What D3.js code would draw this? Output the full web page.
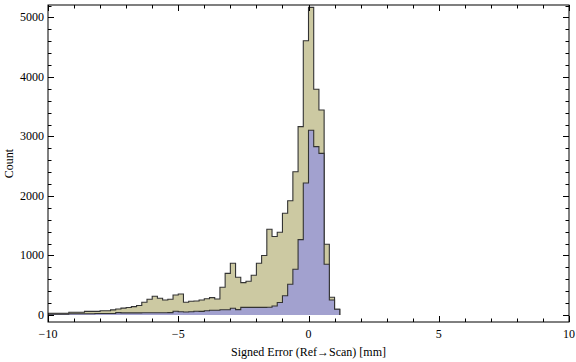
<!DOCTYPE html>
<html>
<head>
<meta charset="utf-8">
<script src="https://cdn.jsdelivr.net/npm/d3@7"></script>
<style>
  body { margin: 0; background: #fff; }
  text { font-family: "Liberation Serif", "DejaVu Serif", serif; }
</style>
</head>
<body>
<div id="chart"></div>
<script>
// bin width 0.2, each array starts at binStart
const binWidth = 0.2;

// tan series: bins starting at -10.0
const tanStart = -10;
const tanCounts = [
    30, 30, 30, 30, 45, 45, 45, 60, 60, 60,      // -10.0 .. -8.2
    72, 72, 85, 100, 115, 125, 140, 160, 213, 264, // -8.0 .. -6.2
    314, 281, 252, 264, 336, 353, 213, 230, 235, 252, // -6.0 .. -4.2
    274, 291, 269, 465, 700, 869, 634, 543, 566, 667, // -4.0 .. -2.2
    869, 1000, 1440, 1320, 1390, 1709, 1921, 2408, 3165, 4610, // -2.0 .. -0.2
    5170, 3793, 3445, 1188, 297, 96                // 0.0 .. 1.0
];

// blue series: bins starting at -10.0
const blueStart = -10;
const blueCounts = [
    15, 15, 15, 15, 20, 20, 20, 20, 20, 25,      // -10.0 .. -8.2
    25, 25, 25, 40, 35, 35, 35, 35, 38, 38,      // -8.0 .. -6.2
    38, 38, 38, 40, 62, 55, 50, 55, 62, 60,      // -6.0 .. -4.2
    70, 79, 80, 89, 89, 112, 90, 127, 127, 127,  // -4.0 .. -2.2
    127, 127, 129, 151, 210, 322, 516, 768, 1266, 2218, // -2.0 .. -0.2
    3104, 2829, 2717, 852, 252, 96               // 0.0 .. 1.0
];

const xTicks = [-10, -5, 0, 5, 10];
const xMinorTicks = d3.range(-10, 11, 1);
const yTicks = [0, 1000, 2000, 3000, 4000, 5000];
const yMinorTicks = d3.range(0, 5201, 200);

const xLabel = "Signed Error (Ref\u2192Scan) [mm]";
const yLabel = "Count";

const svgWidth = 576, svgHeight = 362;
const plotLeft = 48, plotRight = 569, plotTop = 5, plotBottom = 322;

const svg = d3.select("#chart").append("svg")
    .attr("width", svgWidth)
    .attr("height", svgHeight);

const x = d3.scaleLinear().domain([-10, 10]).range([plotLeft, plotRight]);
const y = d3.scaleLinear().domain([-118, 5210]).range([plotBottom, plotTop]);

svg.append("clipPath").attr("id", "clip")
    .append("rect")
    .attr("x", plotLeft).attr("y", plotTop)
    .attr("width", plotRight - plotLeft).attr("height", plotBottom - plotTop);

// build step points from counts
function stepData(start, counts) {
    const pts = counts.map((c, i) => ({ x: start + i * binWidth, c: c }));
    pts.push({ x: start + counts.length * binWidth, c: counts[counts.length - 1] });
    return pts;
}

function drawHist(start, counts, fill) {
    const pts = stepData(start, counts);
    const g = svg.append("g").attr("clip-path", "url(#clip)");

    const area = d3.area()
        .curve(d3.curveStepAfter)
        .x(d => x(d.x))
        .y0(y(0))
        .y1(d => y(d.c));

    g.append("path")
        .datum(pts)
        .attr("d", area)
        .attr("fill", fill);

    // outline: up from baseline, along the tops, down to baseline
    const linePts = [{ x: pts[0].x, c: 0 }].concat(pts, [{ x: pts[pts.length - 1].x, c: 0 }]);
    const line = d3.line()
        .curve(d3.curveStepAfter)
        .x(d => x(d.x))
        .y(d => y(d.c));

    g.append("path")
        .datum(linePts)
        .attr("d", line)
        .attr("fill", "none")
        .attr("stroke", "#333")
        .attr("stroke-width", 1.1);
}

drawHist(tanStart, tanCounts, "#ccc9a2");
drawHist(blueStart, blueCounts, "#a2a1cf");

// frame
svg.append("rect")
    .attr("x", plotLeft).attr("y", plotTop)
    .attr("width", plotRight - plotLeft).attr("height", plotBottom - plotTop)
    .attr("fill", "none")
    .attr("stroke", "#000")
    .attr("stroke-width", 1);

// ticks on all four sides, pointing inward
const tickG = svg.append("g").attr("stroke", "#000").attr("stroke-width", 1);
xMinorTicks.forEach(v => {
    const len = xTicks.includes(v) ? 6 : 3.5;
    const px = Math.round(x(v)) + 0.5;
    tickG.append("line").attr("x1", px).attr("x2", px).attr("y1", plotBottom).attr("y2", plotBottom - len);
    tickG.append("line").attr("x1", px).attr("x2", px).attr("y1", plotTop).attr("y2", plotTop + len);
});
yMinorTicks.forEach(v => {
    const len = yTicks.includes(v) ? 6 : 3.5;
    const py = Math.round(y(v)) + 0.5;
    tickG.append("line").attr("x1", plotLeft).attr("x2", plotLeft + len).attr("y1", py).attr("y2", py);
    tickG.append("line").attr("x1", plotRight).attr("x2", plotRight - len).attr("y1", py).attr("y2", py);
});

// tick labels
svg.append("g").selectAll("text")
    .data(xTicks)
    .join("text")
    .attr("x", d => x(d))
    .attr("y", plotBottom + 16)
    .attr("text-anchor", "middle")
    .attr("font-size", 12)
    .text(d => d < 0 ? "\u2212" + Math.abs(d) : d);

svg.append("g").selectAll("text")
    .data(yTicks)
    .join("text")
    .attr("x", plotLeft - 4)
    .attr("y", d => y(d) + 4)
    .attr("text-anchor", "end")
    .attr("font-size", 12)
    .text(d => d);

// axis labels
svg.append("text")
    .attr("x", (plotLeft + plotRight) / 2)
    .attr("y", 356)
    .attr("text-anchor", "middle")
    .attr("font-size", 12)
    .text(xLabel);

svg.append("text")
    .attr("transform", `translate(13, ${(plotTop + plotBottom) / 2}) rotate(-90)`)
    .attr("text-anchor", "middle")
    .attr("font-size", 12)
    .text(yLabel);
</script>
</body>
</html>
